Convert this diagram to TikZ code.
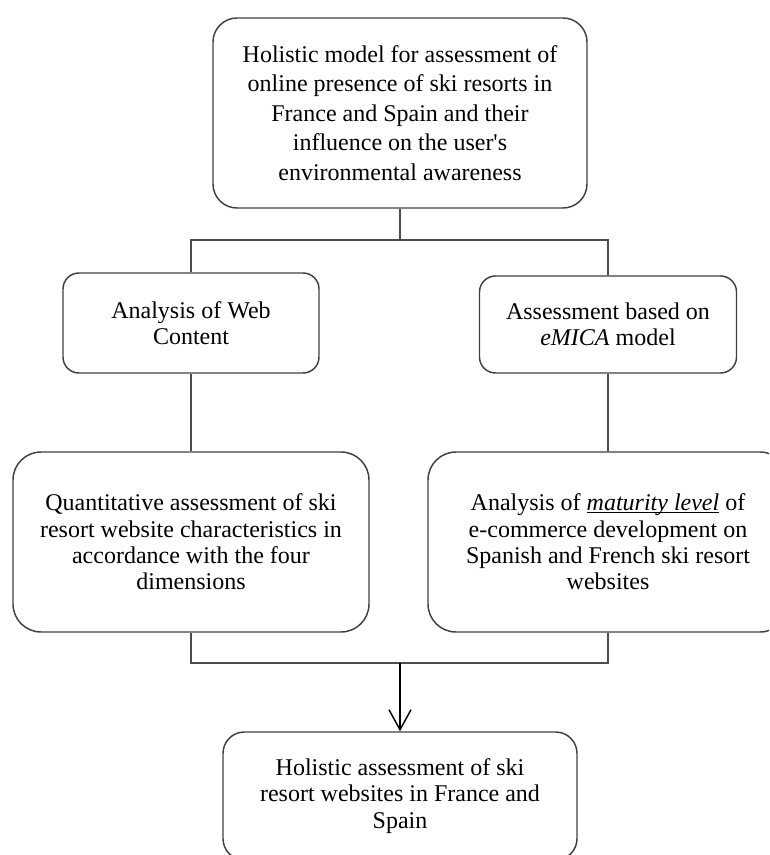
\documentclass[tikz,border=0pt]{standalone}
\usepackage{fontspec}
\setmainfont{Liberation Serif}
\usetikzlibrary{arrows.meta}
\newcommand\undertext[1]{\setbox0\hbox{#1}\rlap{\rule[-1.6pt]{\wd0}{0.6pt}}\box0\relax}
\tikzset{
  box/.style={draw=black!75, line width=1.1pt, rounded corners=#1, align=center, inner sep=0pt,
    font={\fontsize{18}{19.7}\selectfont}},
  box/.default=12pt,
  link/.style={draw=black!70, line width=1.1pt},
}
\begin{document}
\begin{tikzpicture}[x=0.75pt,y=-0.75pt]
\clip (0,0) rectangle (769,855);
% top
\node[box=18pt, minimum width=280.5pt, minimum height=142.5pt, font={\fontsize{18}{22.2}\selectfont}] (model) at (400,113)
  {Holistic model for assessment of\\online presence of ski resorts in\\France and Spain and their\\influence on the user\textquotesingle s\\environmental awareness};
% middle row
\node[box, minimum width=192pt, minimum height=75pt] (web) at (191,323)
  {Analysis of Web\\Content};
\node[box, minimum width=192.75pt, minimum height=72.75pt] (emica) at (608,324.5)
  {Assessment based on\\\emph{eMICA} model};
% lower row
\node[box=21pt, minimum width=267pt, minimum height=135pt] (quant) at (191,542)
  {Quantitative assessment of ski\\resort website characteristics in\\accordance with the four\\dimensions};
\node[box=21pt, minimum width=270pt, minimum height=135pt] (matur) at (608,542)
  {Analysis of \undertext{\emph{maturity level}} of\\e-commerce development on\\Spanish and French ski resort\\websites};
% result
\node[box=16pt, minimum width=265.5pt, minimum height=96pt] (whole) at (400,796)
  {Holistic assessment of ski\\resort websites in France and\\Spain};
\coordinate (split) at (400,240);
\coordinate (join) at (400,663);
\draw[link] (model.south) -- (split);
\draw[link] (web.north) |- (split) -| (emica.north);
\draw[link] (web.south) -- (quant.north);
\draw[link] (emica.south) -- (matur.north);
\draw[link] (quant.south) |- (join) -| (matur.south);
\draw[line width=1.1pt, -{Straight Barb[length=15pt, width=16.5pt]}] (join) -- (whole.north);
\end{tikzpicture}
\end{document}
